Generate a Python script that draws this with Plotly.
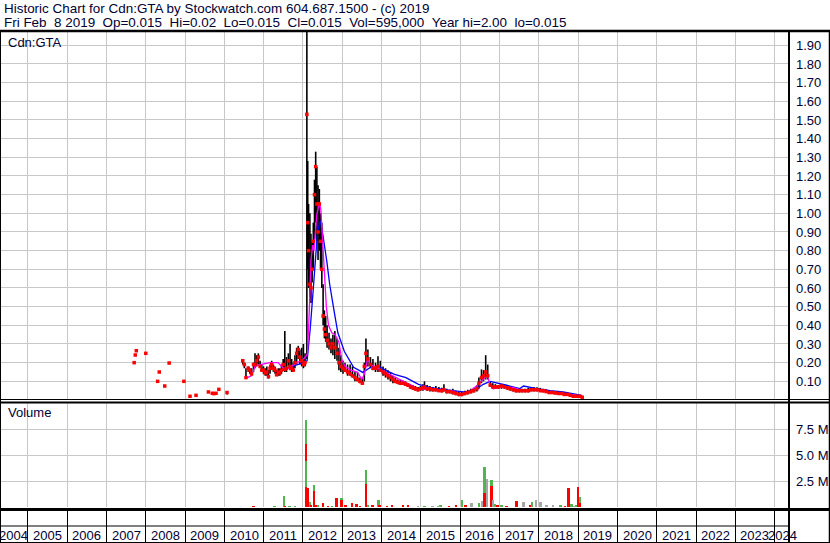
import plotly.graph_objects as go

# ---------------- DATA ----------------
bar_dates = [
    "2007-09-15", "2007-09-25", "2007-10-05", "2008-01-01", "2008-04-20", "2008-05-05",
    "2008-06-25", "2008-08-05", "2008-12-20", "2009-02-15", "2009-04-12", "2009-08-05",
    "2009-09-10", "2009-09-25", "2009-10-15", "2009-11-10", "2010-01-25",
    "2010-06-20", "2010-07-05", "2010-07-20", "2010-08-10", "2010-08-25", "2010-09-10",
    "2010-09-28", "2010-10-12", "2010-10-28", "2010-11-12", "2010-11-28", "2010-12-14",
    "2010-12-30", "2011-01-15", "2011-01-30", "2011-02-14", "2011-03-01", "2011-03-16",
    "2011-04-01", "2011-04-16", "2011-05-01", "2011-05-16", "2011-05-31", "2011-06-15",
    "2011-07-01", "2011-07-16", "2011-08-01", "2011-08-18", "2011-09-03", "2011-09-18",
    "2011-10-03", "2011-10-18", "2011-11-03", "2011-11-18", "2011-12-03", "2011-12-20",
    "2012-01-05", "2012-01-20",
    "2012-02-06", "2012-02-14", "2012-02-22", "2012-03-05", "2012-03-15", "2012-03-26",
    "2012-04-06", "2012-04-17", "2012-04-28", "2012-05-09", "2012-05-20", "2012-06-01",
    "2012-06-12", "2012-06-24", "2012-07-06", "2012-07-18", "2012-07-30", "2012-08-12",
    "2012-08-30", "2012-09-17", "2012-10-05", "2012-10-23", "2012-11-12", "2012-11-30",
    "2012-12-18", "2013-01-07", "2013-01-25", "2013-02-18", "2013-03-14", "2013-04-05",
    "2013-04-28", "2013-05-22", "2013-06-13", "2013-07-06", "2013-07-24", "2013-08-08",
    "2013-08-26", "2013-09-19", "2013-10-12", "2013-11-05", "2013-11-28", "2013-12-20",
    "2014-01-14", "2014-02-06", "2014-03-01", "2014-03-24", "2014-04-16", "2014-05-09",
    "2014-06-01", "2014-06-24", "2014-07-18", "2014-08-10", "2014-09-02", "2014-09-26",
    "2014-10-19", "2014-11-11", "2014-12-05", "2014-12-28", "2015-01-20", "2015-02-03",
    "2015-02-28", "2015-03-26", "2015-04-22", "2015-05-20", "2015-06-17", "2015-07-15",
    "2015-08-03", "2015-08-30", "2015-09-27", "2015-10-25", "2015-11-22", "2015-12-20",
    "2016-01-16", "2016-02-13", "2016-03-12", "2016-04-09", "2016-05-07", "2016-06-04",
    "2016-06-23", "2016-07-17", "2016-08-05", "2016-08-25", "2016-09-13", "2016-10-06",
    "2016-10-30", "2016-11-23", "2016-12-21", "2017-01-18", "2017-02-15", "2017-03-14",
    "2017-04-10", "2017-05-08", "2017-06-04", "2017-07-02", "2017-07-29", "2017-08-26",
    "2017-09-24", "2017-10-20", "2017-11-17", "2017-12-15", "2018-01-14", "2018-02-10",
    "2018-03-10", "2018-04-07", "2018-05-05", "2018-06-02", "2018-07-01", "2018-07-28",
    "2018-08-25", "2018-09-22", "2018-10-20", "2018-11-17", "2018-12-15", "2019-01-12",
    "2019-02-08",
]
bar_high = [
    0.20, 0.241, 0.264, 0.25, 0.10, 0.15,
    0.075, 0.198, 0.10, 0.02, 0.025, 0.043,
    0.036, 0.034, 0.036, 0.057, 0.045,
    0.22, 0.20, 0.17, 0.18, 0.17, 0.17,
    0.20, 0.25, 0.24, 0.25, 0.21, 0.19,
    0.18, 0.17, 0.18, 0.16, 0.19, 0.21,
    0.19, 0.18, 0.16, 0.17, 0.17, 0.19,
    0.22, 0.37, 0.23, 0.25, 0.30, 0.22,
    0.20, 0.24, 0.28, 0.29, 0.27, 0.28,
    0.30, 0.25,
    2.00, 1.28, 1.05, 1.00, 0.89, 0.85,
    0.95, 1.18, 1.33, 1.25, 1.15, 1.13,
    1.00, 0.95, 0.62, 0.48, 0.45, 0.40,
    0.36, 0.33, 0.35, 0.37, 0.33, 0.28,
    0.24, 0.21, 0.20, 0.19, 0.19, 0.18,
    0.15, 0.15, 0.12, 0.12, 0.20, 0.33,
    0.27, 0.23, 0.22, 0.20, 0.235, 0.21,
    0.18, 0.17, 0.16, 0.15, 0.13, 0.12,
    0.11, 0.11, 0.105, 0.10, 0.09, 0.085,
    0.08, 0.075, 0.07, 0.075, 0.085, 0.10,
    0.08, 0.075, 0.07, 0.075, 0.07, 0.065,
    0.084, 0.06, 0.055, 0.06, 0.05, 0.045,
    0.045, 0.05, 0.055, 0.06, 0.065, 0.08,
    0.12, 0.164, 0.16, 0.24, 0.19, 0.10,
    0.09, 0.085, 0.08, 0.085, 0.085, 0.08,
    0.075, 0.07, 0.065, 0.06, 0.06, 0.06,
    0.065, 0.07, 0.07, 0.068, 0.065, 0.06,
    0.058, 0.05, 0.05, 0.048, 0.045, 0.045,
    0.042, 0.04, 0.035, 0.03, 0.03, 0.025,
    0.02,
]
bar_low = [
    0.20, 0.241, 0.264, 0.25, 0.10, 0.15,
    0.075, 0.198, 0.10, 0.02, 0.025, 0.043,
    0.036, 0.034, 0.036, 0.057, 0.03,
    0.19, 0.17, 0.12, 0.15, 0.14, 0.13,
    0.15, 0.17, 0.18, 0.19, 0.17, 0.15,
    0.14, 0.13, 0.13, 0.115, 0.14, 0.16,
    0.15, 0.14, 0.13, 0.13, 0.13, 0.14,
    0.16, 0.15, 0.15, 0.18, 0.16, 0.15,
    0.15, 0.17, 0.19, 0.22, 0.19, 0.18,
    0.17, 0.18,
    0.22, 0.70, 0.60, 0.55, 0.52, 0.63,
    0.70, 0.86, 0.95, 0.85, 0.75, 0.80,
    0.70, 0.60, 0.40, 0.33, 0.31, 0.28,
    0.27, 0.25, 0.24, 0.22, 0.21, 0.16,
    0.15, 0.14, 0.15, 0.13, 0.13, 0.12,
    0.10, 0.10, 0.09, 0.084, 0.10, 0.18,
    0.18, 0.17, 0.16, 0.15, 0.15, 0.15,
    0.13, 0.12, 0.11, 0.10, 0.09, 0.09,
    0.085, 0.08, 0.08, 0.075, 0.07, 0.06,
    0.055, 0.05, 0.045, 0.05, 0.05, 0.06,
    0.05, 0.045, 0.045, 0.045, 0.045, 0.04,
    0.045, 0.035, 0.035, 0.03, 0.025, 0.02,
    0.02, 0.025, 0.03, 0.035, 0.04, 0.045,
    0.06, 0.09, 0.10, 0.11, 0.11, 0.07,
    0.06, 0.06, 0.06, 0.06, 0.06, 0.055,
    0.05, 0.045, 0.04, 0.04, 0.04, 0.04,
    0.04, 0.045, 0.045, 0.045, 0.045, 0.04,
    0.04, 0.035, 0.032, 0.03, 0.03, 0.028,
    0.025, 0.025, 0.02, 0.015, 0.015, 0.015,
    0.015,
]
bar_close = [
    0.20, 0.241, 0.264, 0.25, 0.10, 0.15,
    0.075, 0.198, 0.10, 0.02, 0.025, 0.043,
    0.036, 0.034, 0.036, 0.057, 0.04,
    0.21, 0.19, 0.12, 0.17, 0.16, 0.14,
    0.19, 0.19, 0.21, 0.23, 0.18, 0.16,
    0.16, 0.145, 0.15, 0.125, 0.17, 0.19,
    0.17, 0.16, 0.135, 0.15, 0.145, 0.16,
    0.19, 0.164, 0.17, 0.21, 0.18, 0.17,
    0.16, 0.20, 0.25, 0.27, 0.23, 0.21,
    0.19, 0.20,
    1.53, 0.95, 0.80, 0.62, 0.60, 0.70,
    0.85, 1.10, 1.25, 1.05, 0.90, 1.05,
    0.85, 0.70, 0.45, 0.38, 0.35, 0.32,
    0.30, 0.28, 0.30, 0.28, 0.25, 0.20,
    0.18, 0.17, 0.16, 0.15, 0.14, 0.13,
    0.12, 0.11, 0.10, 0.09, 0.18, 0.25,
    0.22, 0.19, 0.17, 0.17, 0.18, 0.16,
    0.15, 0.14, 0.13, 0.12, 0.11, 0.10,
    0.095, 0.09, 0.09, 0.085, 0.08, 0.07,
    0.065, 0.06, 0.055, 0.06, 0.065, 0.07,
    0.06, 0.06, 0.055, 0.055, 0.05, 0.05,
    0.055, 0.045, 0.045, 0.04, 0.035, 0.03,
    0.03, 0.035, 0.04, 0.045, 0.05, 0.06,
    0.09, 0.12, 0.13, 0.15, 0.13, 0.08,
    0.07, 0.07, 0.07, 0.075, 0.07, 0.065,
    0.06, 0.055, 0.05, 0.05, 0.05, 0.05,
    0.05, 0.055, 0.055, 0.055, 0.05, 0.05,
    0.045, 0.04, 0.04, 0.038, 0.035, 0.035,
    0.03, 0.03, 0.025, 0.02, 0.02, 0.02,
    0.015,
]

ma_short_dates = [
    "2010-08-01", "2010-09-10", "2010-10-12", "2010-11-28", "2011-03-01", "2011-05-15",
    "2011-07-01", "2011-08-18", "2011-11-03", "2011-12-28", "2012-02-01", "2012-02-12",
    "2012-03-01", "2012-03-15", "2012-04-01", "2012-04-12", "2012-05-08", "2012-06-01",
    "2012-06-15", "2012-07-01", "2012-07-20", "2012-08-05", "2012-08-25", "2012-09-25",
    "2012-10-25", "2012-11-30", "2012-12-25", "2013-01-25", "2013-03-20", "2013-05-20",
    "2013-07-01", "2013-07-25", "2013-08-25", "2013-09-20", "2013-12-15", "2014-03-15",
    "2014-06-10", "2014-09-10", "2014-12-15", "2015-04-25", "2015-07-25", "2015-10-25",
    "2016-01-01", "2016-03-05", "2016-06-01", "2016-08-03", "2016-09-08", "2016-10-04",
    "2016-11-03", "2017-02-06", "2017-05-12", "2017-08-12", "2017-12-14", "2018-04-15",
    "2018-08-15", "2018-12-15", "2019-02-05",
]
ma_short = [
    0.12, 0.13, 0.18, 0.19, 0.20, 0.20,
    0.17, 0.17, 0.20, 0.214, 0.236, 0.25,
    0.50, 0.75, 0.83, 0.80, 0.99, 1.06,
    1.02, 0.86, 0.66, 0.50, 0.40, 0.36,
    0.35, 0.31, 0.22, 0.18, 0.16, 0.15,
    0.11, 0.14, 0.22, 0.19, 0.164, 0.137,
    0.11, 0.084, 0.057, 0.057, 0.054, 0.048,
    0.03, 0.038, 0.075, 0.11, 0.132, 0.084,
    0.06, 0.072, 0.066, 0.048, 0.054, 0.04,
    0.036, 0.025, 0.018,
]

ma_long_dates = [
    "2011-07-01", "2011-10-01", "2012-01-05", "2012-02-08", "2012-03-08", "2012-04-05",
    "2012-05-15", "2012-06-10", "2012-07-05", "2012-08-10", "2012-09-05", "2012-10-15",
    "2012-11-20", "2013-01-20", "2013-04-15", "2013-07-10", "2013-09-20", "2013-12-01",
    "2014-01-20", "2014-05-01", "2014-08-15", "2014-12-10", "2015-03-25", "2015-08-28",
    "2016-01-30", "2016-05-01", "2016-08-03", "2016-10-04", "2016-12-06", "2017-03-08",
    "2017-07-08", "2017-08-12", "2017-12-14", "2018-04-15", "2018-08-15", "2018-12-15",
    "2019-02-05",
]
ma_long = [
    0.164, 0.18, 0.20, 0.21, 0.38, 0.59,
    0.90, 0.96, 0.88, 0.74, 0.62, 0.48,
    0.36, 0.26, 0.175, 0.148, 0.175, 0.182,
    0.164, 0.137, 0.12, 0.084, 0.068, 0.054,
    0.043, 0.048, 0.084, 0.10, 0.093, 0.079,
    0.061, 0.075, 0.061, 0.05, 0.043, 0.03,
    0.025,
]

vol_dates = [
    "2010-10-01", "2011-04-15", "2011-07-13", "2011-07-20", "2011-09-01", "2011-10-20",
    "2012-02-03", "2012-02-03", "2012-02-03", "2012-02-03", "2012-02-16", "2012-03-06",
    "2012-03-20", "2012-04-13", "2012-04-13", "2012-05-01", "2012-05-20", "2012-07-08",
    "2012-08-20", "2012-10-01", "2012-11-10", "2012-12-25", "2012-12-25", "2013-02-01",
    "2013-04-05", "2013-05-15", "2013-06-15", "2013-08-08", "2013-08-08", "2013-08-30",
    "2013-10-10", "2013-12-06", "2013-12-16", "2014-02-20", "2014-04-10", "2014-07-20",
    "2014-09-05", "2014-12-05", "2015-02-05", "2015-04-20", "2015-06-15", "2015-07-05",
    "2015-09-20", "2015-11-28", "2016-01-22", "2016-02-20", "2016-04-16", "2016-06-28",
    "2016-07-22", "2016-08-15", "2016-08-15", "2016-09-08", "2016-10-20", "2016-10-20",
    "2016-11-04", "2016-11-22", "2016-12-15", "2017-01-22", "2017-03-08", "2017-06-10",
    "2017-08-15", "2017-10-12", "2017-11-03", "2017-12-05", "2018-01-18", "2018-03-15",
    "2018-05-15", "2018-07-22", "2018-09-01", "2018-10-05", "2018-11-03", "2018-11-28",
    "2018-12-16", "2019-01-04", "2019-01-18", "2019-01-18",
]
vol_values = [
    50000, 40000, 1090000, 80000, 60000, 60000,
    8370000, 6050000, 4460000, 1900000, 1820000, 450000,
    200000, 2140000, 1570000, 130000, 100000, 420000,
    80000, 60000, 890000, 890000, 700000, 100000,
    420000, 330000, 80000, 3590000, 2240000, 230000,
    100000, 700000, 130000, 80000, 100000, 130000,
    130000, 50000, 50000, 50000, 50000, 130000,
    80000, 230000, 700000, 100000, 420000, 420000,
    550000, 3880000, 1300000, 2690000, 2590000, 2050000,
    680000, 300000, 100000, 100000, 80000, 610000,
    510000, 100000, 510000, 680000, 510000, 100000,
    130000, 130000, 80000, 1820000, 300000, 80000,
    230000, 1950000, 1000000, 420000,
]
vol_dir = [
    "down", "up", "up", "down", "up", "up",
    "up", "down", "up", "down", "down", "up",
    "down", "up", "down", "down", "up", "down",
    "down", "up", "down", "up", "down", "down",
    "down", "down", "down", "up", "down", "up",
    "down", "up", "down", "down", "down", "down",
    "down", "flat", "up", "flat", "flat", "up",
    "down", "down", "up", "down", "flat", "up",
    "flat", "up", "down", "flat", "up", "down",
    "flat", "up", "down", "up", "down", "down",
    "flat", "down", "up", "flat", "flat", "flat",
    "flat", "up", "down", "down", "up", "flat",
    "up", "down", "up", "down",
]

price_ticks = [0.1, 0.2, 0.3, 0.4, 0.5, 0.6, 0.7, 0.8, 0.9, 1.0,
               1.1, 1.2, 1.3, 1.4, 1.5, 1.6, 1.7, 1.8, 1.9]
vol_ticks = [2500000, 5000000, 7500000]
vol_tick_labels = ["2.5 M", "5.0 M", "7.5 M"]
year_labels = list(range(2004, 2025))

header1 = "Historic Chart for Cdn:GTA by Stockwatch.com 604.687.1500 - (c) 2019"
header2 = ("Fri Feb&nbsp;&nbsp;8 2019&nbsp;&nbsp;Op=0.015&nbsp;&nbsp;Hi=0.02&nbsp;&nbsp;"
           "Lo=0.015&nbsp;&nbsp;Cl=0.015&nbsp;&nbsp;Vol=595,000&nbsp;&nbsp;"
           "Year hi=2.00&nbsp;&nbsp;lo=0.015")

# ---------------- STYLE / LAYOUT ----------------
W, H = 830, 543
FONT = "Arial, Liberation Sans, sans-serif"
TXT = "#000033"
GRID = "#c8c8c8"
dir_color = {"up": "#4fb54f", "down": "#ff0000", "flat": "#a6a6a6"}


def px(xp):
    return xp / W


def py(yp):
    return 1 - yp / H


X_RANGE = ["2004-04-16", "2024-05-14"]
X_RIGHT = px(789)

fig = go.Figure()

# high-low bars
bx, by = [], []
for d, h, l in zip(bar_dates, bar_high, bar_low):
    bx += [d, d, None]
    by += [l, h, None]
fig.add_trace(go.Scatter(x=bx, y=by, mode="lines", line=dict(color="black", width=1.6),
                         xaxis="x", yaxis="y", hoverinfo="skip", connectgaps=False))
# long / short averages
fig.add_trace(go.Scatter(x=ma_long_dates, y=ma_long, mode="lines",
                         line=dict(color="#0000ff", width=1.3), xaxis="x", yaxis="y",
                         hoverinfo="skip"))
fig.add_trace(go.Scatter(x=ma_short_dates, y=ma_short, mode="lines",
                         line=dict(color="#ff00ff", width=1.3), xaxis="x", yaxis="y",
                         hoverinfo="skip"))
# close marks
fig.add_trace(go.Scatter(x=bar_dates, y=bar_close, mode="markers",
                         marker=dict(color="#ff0000", size=3.5, symbol="square", line=dict(width=0)),
                         xaxis="x", yaxis="y", hoverinfo="skip"))

# volume: tall bars first so shorter ones overlay
order = sorted(range(len(vol_values)), key=lambda i: -vol_values[i])
fig.add_trace(go.Bar(x=[vol_dates[i] for i in order], y=[vol_values[i] for i in order],
                     marker=dict(color=[dir_color[vol_dir[i]] for i in order], line=dict(width=0)),
                     width=1.5e9, xaxis="x2", yaxis="y2", hoverinfo="skip"))
# date row helper (invisible)
fig.add_trace(go.Scatter(x=[X_RANGE[0]], y=[0.5], mode="markers", marker=dict(opacity=0),
                         xaxis="x3", yaxis="y3", hoverinfo="skip"))

xcommon = dict(type="date", range=X_RANGE, domain=[0, X_RIGHT], showgrid=True,
               gridcolor=GRID, gridwidth=1, tick0="2005-01-01", dtick="M12",
               showticklabels=False, zeroline=False, showline=False, ticks="")

HFONT = dict(family=FONT, size=13.45, color=TXT)
annotations = [
    dict(text=header1, x=px(2), y=py(9), xref="paper", yref="paper", xanchor="left",
         yanchor="middle", showarrow=False, font=HFONT),
    dict(text=header2, x=px(2), y=py(22), xref="paper", yref="paper", xanchor="left",
         yanchor="middle", showarrow=False, font=HFONT),
    dict(text="Cdn:GTA", x=px(6), y=py(42), xref="paper", yref="paper", xanchor="left",
         yanchor="middle", showarrow=False, font=dict(family=FONT, size=13, color=TXT)),
    dict(text="Volume", x=px(6), y=py(413), xref="paper", yref="paper", xanchor="left",
         yanchor="middle", showarrow=False, font=dict(family=FONT, size=13, color=TXT)),
]
for yr in year_labels:
    if yr == 2004:
        a = dict(x=px(-2), xref="paper", xanchor="left")
    elif yr == 2024:
        a = dict(x=px(767), xref="paper", xanchor="left")
    else:
        a = dict(x=f"{yr}-07-02", xref="x", xanchor="center")
    a.update(text=str(yr), y=py(535), yref="paper", yanchor="middle", showarrow=False,
             borderpad=0, font=dict(family=FONT, size=13, color=TXT))
    annotations.append(a)


def hline(yp, w, x0=0, x1=W):
    return dict(type="line", xref="paper", yref="paper", x0=px(x0), x1=px(x1),
                y0=py(yp), y1=py(yp), line=dict(color="black", width=w))


def vline(xp, w, y0=31, y1=H):
    return dict(type="line", xref="paper", yref="paper", x0=px(xp), x1=px(xp),
                y0=py(y0), y1=py(y1), line=dict(color="black", width=w))


shapes = [
    hline(31, 2.5), hline(399.5, 1), hline(402.5, 2), hline(509.5, 3),
    hline(526, 1, 0, 789), hline(542.5, 1),
    vline(789, 2), vline(829.5, 1.5), vline(0.5, 1),
]

fig.update_layout(
    width=W, height=H, margin=dict(l=0, r=0, t=0, b=0),
    paper_bgcolor="white", plot_bgcolor="white", showlegend=False,
    barmode="overlay", bargap=0, hovermode=False,
    font=dict(family=FONT, size=13, color=TXT),
    xaxis=dict(**xcommon, anchor="y"),
    xaxis2=dict(**xcommon, anchor="y2", matches="x"),
    xaxis3=dict(**{**xcommon, "gridcolor": "black"}, anchor="y3", matches="x"),
    yaxis=dict(domain=[py(400), py(31)], range=[0, 369 / 186.7], side="right",
               tickvals=price_ticks, ticktext=[f"{v:.2f}" for v in price_ticks],
               showgrid=True, gridcolor=GRID, gridwidth=1, zeroline=False, showline=False,
               ticks="", ticklabelstandoff=6, anchor="x",
               tickfont=dict(family=FONT, size=13, color=TXT)),
    yaxis2=dict(domain=[py(507), py(402)], range=[0, 10.1e6], side="right",
                tickvals=vol_ticks, ticktext=vol_tick_labels, showgrid=True,
                gridcolor=GRID, gridwidth=1, zeroline=False, showline=False, ticks="",
                ticklabelstandoff=6, anchor="x2",
                tickfont=dict(family=FONT, size=13, color=TXT)),
    yaxis3=dict(domain=[0, py(510)], range=[0, 1], showgrid=False, zeroline=False,
                showticklabels=False, showline=False, ticks="", anchor="x3"),
    annotations=annotations, shapes=shapes,
)

fig.write_html("out.html", config={"displayModeBar": False},
               post_script="document.body.style.margin='0';document.body.style.overflow='hidden';")
